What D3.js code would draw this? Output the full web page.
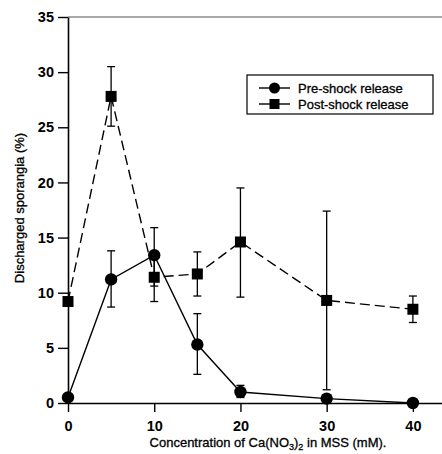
<!DOCTYPE html>
<html lang="en">
<head>
<meta charset="utf-8">
<title>Discharged sporangia</title>
<script src="https://cdn.jsdelivr.net/npm/d3@7"></script>
<style>
  body { margin: 0; background: #fff; }
  svg text { font-family: "Liberation Sans", Arial, sans-serif; fill: #000; }
  .lbl { stroke: #000; stroke-width: 0.3px; }
</style>
</head>
<body>
<div class="chart"></div>
<script>
// concentration of Ca(NO3)2 (mM)
const conc = [0, 5, 10, 15, 20, 30, 40];

// pre-shock release, mean and error bar ends
const pre   = [0.5, 11.2, 13.4, 5.3, 1.0, 0.4, 0];
const preLo = [0.5, 8.7, 10.6, 2.6, 0.5, 0.4, 0];
const preHi = [0.5, 13.8, 15.9, 8.1, 1.6, 0.4, 0];

// post-shock release
const post   = [9.2, 27.8, 11.4, 11.7, 14.6, 9.3, 8.5];
const postLo = [9.2, 25.1, 9.2, 9.7, 9.6, 1.2, 7.3];
const postHi = [9.2, 30.5, 13.6, 13.7, 19.5, 17.4, 9.7];

const xTicks = [0, 10, 20, 30, 40];
const yTicks = [0, 5, 10, 15, 20, 25, 30, 35];
const seriesNames = ["Pre-shock release", "Post-shock release"];

const W = 442, H = 454;
const svg = d3.select(".chart").append("svg")
    .attr("width", W).attr("height", H);

const x = d3.scaleLinear().domain([0, 45]).range([68, 456]);
const y = d3.scaleLinear().domain([0, 35]).range([403, 17]);

// top frame line
svg.append("line")
    .attr("x1", x(0)).attr("x2", W)
    .attr("y1", y(35)).attr("y2", y(35))
    .attr("stroke", "#555").attr("stroke-width", 1.2);

const xAxis = svg.append("g")
    .attr("transform", `translate(0,${y(0)})`)
    .call(d3.axisBottom(x).tickValues(xTicks).tickSize(9).tickSizeOuter(0).tickPadding(9));
const yAxis = svg.append("g")
    .attr("transform", `translate(${x(0)},0)`)
    .call(d3.axisLeft(y).tickValues(yTicks).tickSize(10).tickSizeOuter(0).tickPadding(4));

[xAxis, yAxis].forEach(g => {
    g.select(".domain").attr("stroke", "#000").attr("stroke-width", 1.6);
    g.selectAll(".tick line").attr("stroke", "#000").attr("stroke-width", 1.4);
    g.selectAll(".tick text")
        .attr("font-size", "14.5px").attr("font-weight", "bold")
        .attr("font-family", "Liberation Sans, Arial, sans-serif");
});

// axis titles
svg.append("text")
    .attr("class", "lbl")
    .attr("x", 268).attr("y", 447)
    .attr("text-anchor", "middle")
    .attr("font-size", "13px")
    .html('Concentration of Ca(NO<tspan dy="3" font-size="9px">3</tspan><tspan dy="-3">)</tspan><tspan dy="3" font-size="9px">2</tspan><tspan dy="-3"> in MSS (mM).</tspan>');

svg.append("text")
    .attr("class", "lbl")
    .attr("transform", "translate(24,208) rotate(-90)")
    .attr("text-anchor", "middle")
    .attr("font-size", "13px")
    .text("Discharged sporangia (%)");

const rows = conc.map((c, i) => ({
    c, pre: pre[i], preLo: preLo[i], preHi: preHi[i],
    post: post[i], postLo: postLo[i], postHi: postHi[i]
}));

const line = key => d3.line().x(d => x(d.c)).y(d => y(d[key]));

// error bars
function errorBars(lo, hi) {
    const g = svg.append("g").attr("stroke", "#000").attr("stroke-width", 1.3);
    const bars = rows.filter(d => d[hi] - d[lo] > 0.01);
    g.selectAll(".v").data(bars).join("line")
        .attr("x1", d => x(d.c)).attr("x2", d => x(d.c))
        .attr("y1", d => y(d[lo])).attr("y2", d => y(d[hi]));
    g.selectAll(".t").data(bars).join("line")
        .attr("x1", d => x(d.c) - 4).attr("x2", d => x(d.c) + 4)
        .attr("y1", d => y(d[hi])).attr("y2", d => y(d[hi]));
    g.selectAll(".b").data(bars).join("line")
        .attr("x1", d => x(d.c) - 4).attr("x2", d => x(d.c) + 4)
        .attr("y1", d => y(d[lo])).attr("y2", d => y(d[lo]));
}
errorBars("postLo", "postHi");
errorBars("preLo", "preHi");

svg.append("path").datum(rows)
    .attr("d", line("post"))
    .attr("fill", "none").attr("stroke", "#000").attr("stroke-width", 1.4)
    .attr("stroke-dasharray", "10,5");

svg.append("path").datum(rows)
    .attr("d", line("pre"))
    .attr("fill", "none").attr("stroke", "#000").attr("stroke-width", 1.4);

svg.selectAll(".sq").data(rows).join("rect")
    .attr("x", d => x(d.c) - 5.5).attr("y", d => y(d.post) - 5.5)
    .attr("width", 11).attr("height", 11).attr("fill", "#000");

svg.selectAll(".ci").data(rows).join("circle")
    .attr("cx", d => x(d.c)).attr("cy", d => y(d.pre))
    .attr("r", 6.2).attr("fill", "#000");

// legend
const lg = svg.append("g");
lg.append("rect")
    .attr("x", 247).attr("y", 75).attr("width", 186).attr("height", 39)
    .attr("fill", "#fff").attr("stroke", "#000").attr("stroke-width", 1.2);
seriesNames.forEach((name, i) => {
    const ly = 88 + i * 16;
    lg.append("line")
        .attr("x1", 259).attr("x2", 290).attr("y1", ly).attr("y2", ly)
        .attr("stroke", "#000").attr("stroke-width", 1.4);
    if (i === 0) {
        lg.append("circle").attr("cx", 274.5).attr("cy", ly).attr("r", 5.5).attr("fill", "#000");
    } else {
        lg.append("rect").attr("x", 269.5).attr("y", ly - 5).attr("width", 10).attr("height", 10).attr("fill", "#000");
    }
    lg.append("text")
        .attr("class", "lbl")
        .attr("x", 298).attr("y", ly + 4.5)
        .attr("font-size", "13px")
        .text(name);
});
</script>
</body>
</html>
